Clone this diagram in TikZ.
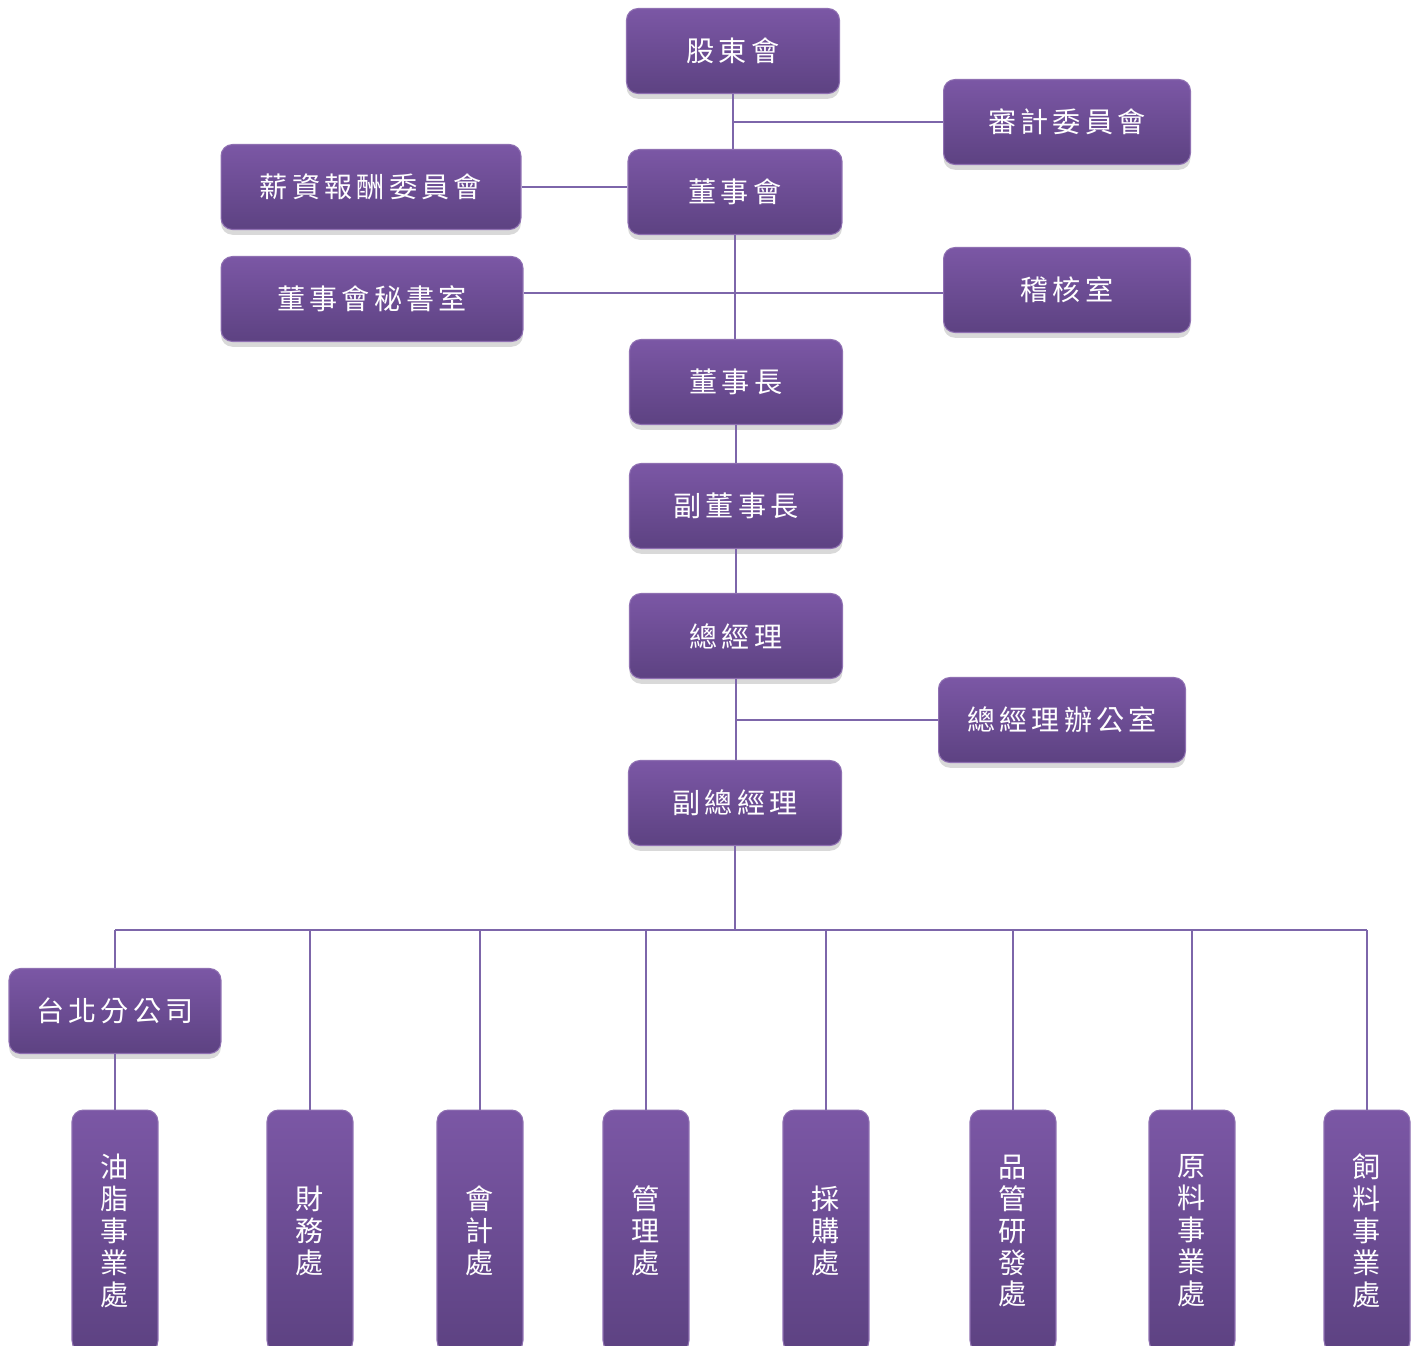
\documentclass[tikz,border=0pt]{standalone}
\usepackage{fontspec}
\newfontfamily\cjk[LetterSpace=15]{Noto Sans CJK TC}
\usetikzlibrary{shadows}
\definecolor{boxtop}{HTML}{7B57A5}
\definecolor{boxbot}{HTML}{5D4282}
\definecolor{linkc}{HTML}{7D66AA}
\tikzset{
	unit/.style={rounded corners=6.5pt, top color=boxtop, bottom color=boxbot, draw=boxtop!85,
		line width=0.6pt, drop shadow={shadow xshift=0pt, shadow yshift=-3pt, opacity=0.3},
		text=white, font=\cjk\fontsize{16}{18.2}\selectfont, inner sep=0pt},
	wide/.style={unit, minimum width=#1, minimum height=1.7cm},
	tall/.style={unit, minimum width=1.72cm, minimum height=4.84cm, align=center},
	link/.style={draw=linkc, line width=1.2pt}
}
\begin{document}
\begin{tikzpicture}[x=0.02cm, y=-0.02cm]
	\useasboundingbox (0,0) rectangle (1418,1346);
	\clip (0,0) rectangle (1418,1346);
	% board level
	\node[wide=4.26cm] (gd) at (733,51) {股東會};
	\node[wide=4.94cm] (sj) at (1067,122) {審計委員會};
	\node[wide=6.0cm] (xz) at (371,187) {薪資報酬委員會};
	\node[wide=4.28cm] (bd) at (735,192) {董事會};
	\node[wide=6.04cm] (ms) at (372,299) {董事會秘書室};
	\node[wide=4.94cm] (jh) at (1067,290) {稽核室};
	% management
	\node[wide=4.26cm] (cm) at (736,382) {董事長};
	\node[wide=4.26cm] (fd) at (736,506) {副董事長};
	\node[wide=4.26cm] (zj) at (736,636) {總經理};
	\node[wide=4.94cm] (zb) at (1062,720) {總經理辦公室};
	\node[wide=4.26cm] (fz) at (735,803) {副總經理};
	\node[wide=4.24cm] (tp) at (115,1011) {台北分公司};
	\coordinate (bus) at (735,930);
	% links
	\draw[link] (gd.south) -- (gd.south |- bd.north);
	\draw[link] (gd.south |- sj.west) -- (sj.west);
	\draw[link] (xz.east) -- (xz.east -| bd.west);
	\draw[link] (bd.south) -- (bd.south |- cm.north);
	\draw[link] ([yshift=0.12cm]ms.east) -- ([yshift=0.12cm]ms.east -| jh.west);
	\draw[link] (cm.south) -- (fd.north);
	\draw[link] (fd.south) -- (zj.north);
	\draw[link] (zj.south) -- (zj.south |- fz.north);
	\draw[link] (zj.south |- zb.west) -- (zb.west);
	\draw[link] (fz.south) -- (bus);
	% departments
	\node[tall] (ys) at (115,1231) {油\\脂\\事\\業\\處};
	\foreach \name/\px/\txt in {cw/310/{財\\務\\處}, kj/480/{會\\計\\處}, gl/646/{管\\理\\處},
		cg/826/{採\\購\\處}, pg/1013/{品\\管\\研\\發\\處}, yl/1192/{原\\料\\事\\業\\處},
		sl/1367/{飼\\料\\事\\業\\處}}{
		\node[tall] (\name) at (\px,1231) {\txt};
		\draw[link] (bus -| \name.north) -- (\name.north);
	}
	\draw[link] (bus -| tp.north) -- (bus -| sl.north);
	\draw[link] (bus -| tp.north) -- (tp.north);
	\draw[link] (tp.south) -- (ys.north);
\end{tikzpicture}
\end{document}
